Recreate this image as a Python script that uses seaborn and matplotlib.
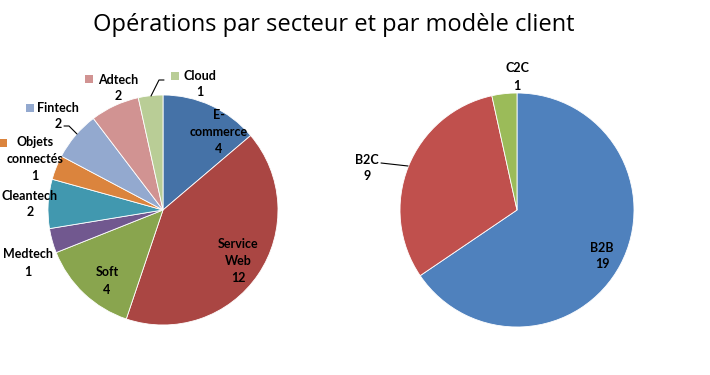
import numpy as np
import seaborn as sns
import matplotlib.pyplot as plt

# Sector breakdown (left pie), clockwise from 12 o'clock
sectors = ['E-\ncommerce', 'Service\nWeb', 'Soft', 'Medtech', 'Cleantech',
           'Objets\nconnectés', 'Fintech', 'Adtech', 'Cloud']
sector_counts = [4, 12, 4, 1, 2, 1, 2, 2, 1]
sector_colors = ['#4572A7', '#AA4643', '#89A54E', '#71588F', '#4198AF',
                 '#DB843D', '#93A9CF', '#D19392', '#B9CD96']

# Client model breakdown (right pie)
models = ['B2B', 'B2C', 'C2C']
model_counts = [19, 9, 1]
model_colors = ['#4F81BD', '#C0504D', '#9BBB59']

W, H = 710, 375

# label block centres in pixel coords (x, y from top)
sector_label_pos = [(219, 132), (238, 261), (107, 281), (28, 263), (30, 204),
                    (35, 159), (58, 116), (118, 88), (200, 84)]
# small legend keys shown beside some outside labels (index -> pixel centre)
sector_keys = {5: (3, 143), 6: (30, 108), 7: (89, 79), 8: (175, 76)}
model_label_pos = [(602, 256), (367, 168), (517, 77)]

sns.set_theme(style="white")
plt.rcParams['font.family'] = ['Lato', 'Liberation Sans', 'DejaVu Sans']

fig = plt.figure(figsize=(W / 100, H / 100), dpi=100)
ax = fig.add_axes([0, 0, 1, 1])


def py(y):
    return H - y


ax.pie(sector_counts, colors=sector_colors, startangle=90, counterclock=False,
       center=(163, py(210)), radius=115, frame=True,
       wedgeprops=dict(edgecolor='white', linewidth=0.6))
ax.pie(model_counts, colors=model_colors, startangle=90, counterclock=False,
       center=(517, py(210)), radius=117, frame=True,
       wedgeprops=dict(edgecolor='white', linewidth=0.6))

ax.set_xlim(0, W)
ax.set_ylim(0, H)
ax.set_aspect('equal')
ax.axis('off')

lbl = dict(ha='center', va='center', fontsize=9, fontweight='bold',
           color='black', linespacing=1.5)

for name, n, (x, y) in zip(sectors, sector_counts, sector_label_pos):
    ax.text(x, py(y), '%s\n%d' % (name, n), **lbl)

for i, (kx, ky) in sector_keys.items():
    ax.scatter(kx, py(ky), marker='s', s=32, color=sector_colors[i], linewidths=0)

for name, n, (x, y) in zip(models, model_counts, model_label_pos):
    ax.text(x, py(y), '%s\n%d' % (name, n), **lbl)

# leader lines
leaders = [[(64, 126), (69, 126), (77, 134)],
           [(151, 96), (159, 80), (164, 80)],
           [(381, 163), (408, 166)]]
for pts in leaders:
    xs, ys = zip(*pts)
    ax.plot(xs, [py(v) for v in ys], color='black', lw=0.8)

ax.text(334, py(25), 'Opérations par secteur et par modèle client',
        ha='center', va='center', fontsize=17, color='black',
        family=['Open Sans', 'DejaVu Sans'])

fig.savefig('out.png', dpi=100)
